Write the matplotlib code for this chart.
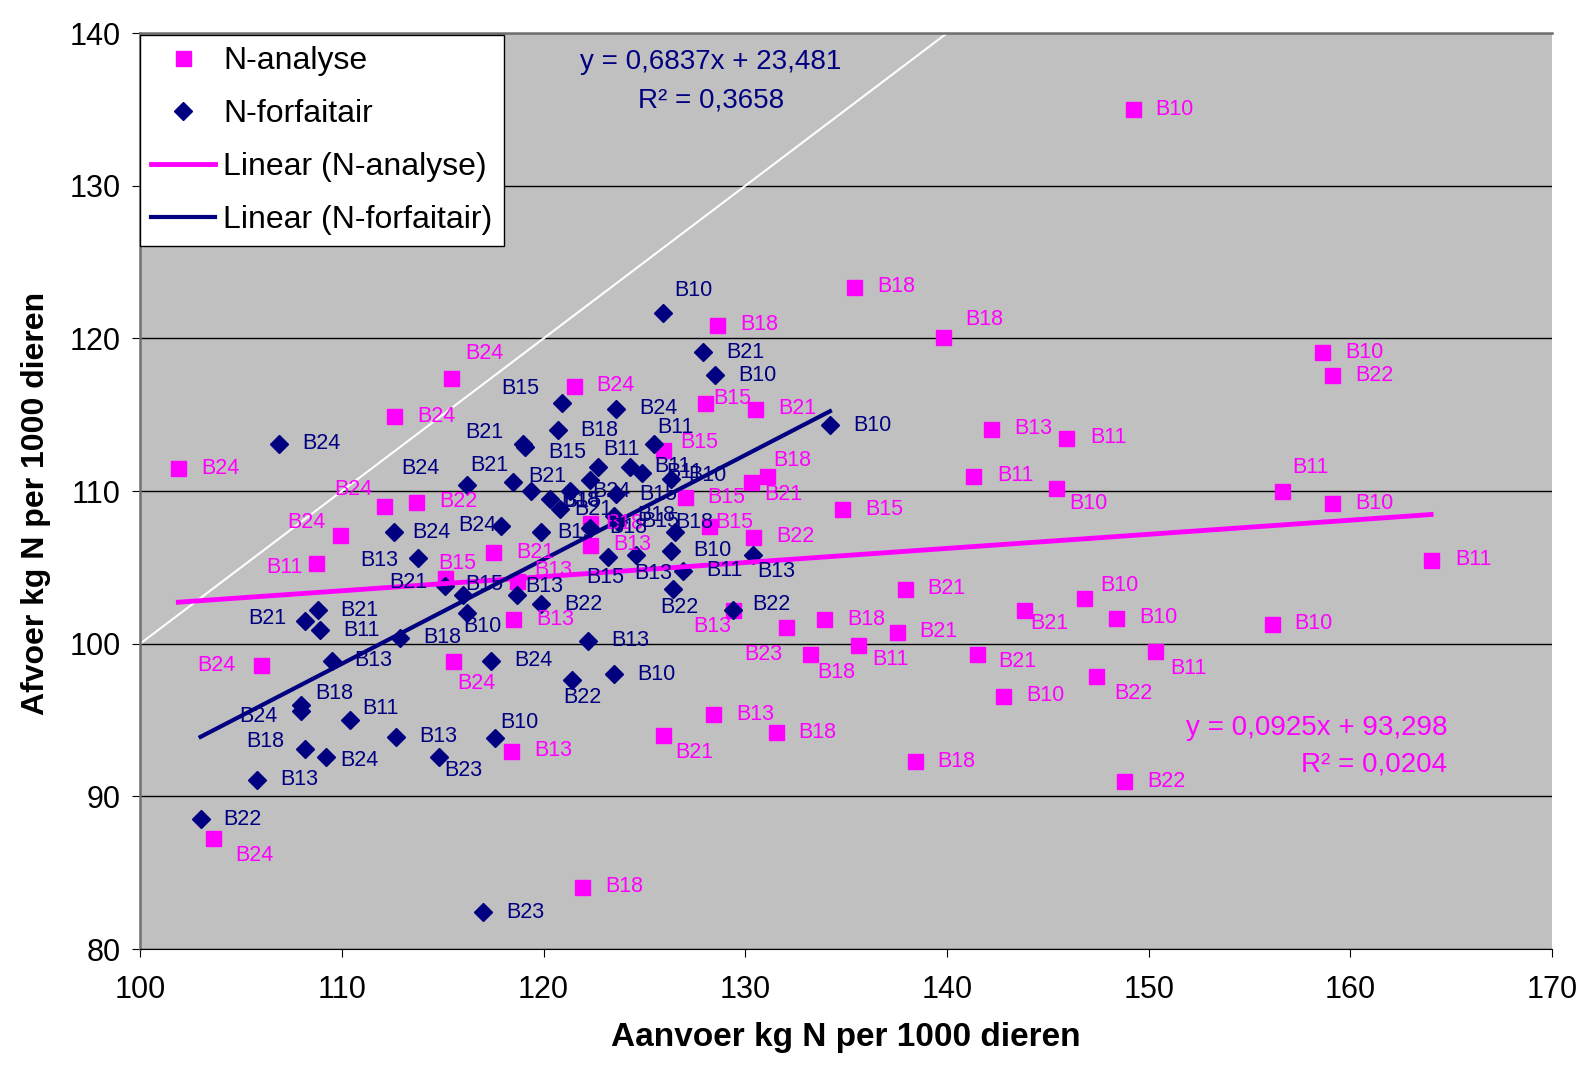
import numpy as np
import matplotlib.pyplot as plt

plt.rcParams['font.family'] = ['Liberation Sans', 'DejaVu Sans']

# N-analyse (roze vierkantjes)
ana_x = [149.2, 135.4, 139.8, 128.6, 121.5, 115.4, 112.6, 101.9, 128.0, 130.5,
         125.9, 142.2, 145.9, 158.6, 159.1, 141.3, 145.4, 156.6, 159.1, 164.0,
         131.1, 130.3, 127.0, 134.8, 128.2, 130.4, 112.1, 113.7, 109.9, 108.7,
         117.5, 122.3, 122.3, 118.7, 115.1, 118.5, 115.5, 106.0, 103.6, 125.9,
         128.4, 118.4, 121.9, 131.5, 138.4, 132.0, 133.2, 133.9, 135.6, 137.5,
         137.9, 141.5, 143.8, 142.8, 146.8, 148.4, 147.4, 150.3, 156.1, 148.8,
         129.4]
ana_y = [135.0, 123.4, 120.1, 120.9, 116.9, 117.4, 114.9, 111.5, 115.8, 115.4,
         112.7, 114.1, 113.5, 119.1, 117.6, 111.0, 110.2, 110.0, 109.2, 105.5,
         111.0, 110.6, 109.6, 108.8, 107.7, 107.0, 109.0, 109.3, 107.1, 105.3,
         106.0, 107.9, 106.5, 104.1, 104.3, 101.6, 98.9, 98.6, 87.3, 94.0,
         95.4, 93.0, 84.1, 94.2, 92.3, 101.1, 99.3, 101.6, 99.9, 100.8,
         103.6, 99.3, 102.2, 96.6, 103.0, 101.7, 97.9, 99.5, 101.3, 91.0,
         102.2]
ana_lab = ['B10', 'B18', 'B18', 'B18', 'B24', 'B24', 'B24', 'B24', 'B15', 'B21',
           'B15', 'B13', 'B11', 'B10', 'B22', 'B11', 'B10', 'B11', 'B10', 'B11',
           'B18', 'B21', 'B15', 'B15', 'B15', 'B22', 'B24', 'B22', 'B24', 'B11',
           'B21', 'B18', 'B13', 'B13', 'B15', 'B13', 'B24', 'B24', 'B24', 'B21',
           'B13', 'B13', 'B18', 'B18', 'B18', 'B23', 'B18', 'B18', 'B11', 'B21',
           'B21', 'B21', 'B21', 'B10', 'B10', 'B10', 'B22', 'B11', 'B10', 'B22',
           'B13']

# N-forfaitair (blauwe ruitjes)
for_x = [125.9, 127.9, 128.5, 134.2, 120.9, 123.6, 119.0, 120.7, 119.1, 106.9,
         125.5, 122.7, 116.2, 118.5, 119.4, 120.3, 120.8, 121.3, 122.3, 124.3,
         124.9, 126.3, 123.6, 123.5, 123.7, 122.3, 126.5, 119.9, 117.9, 112.6,
         113.8, 115.1, 116.0, 118.7, 119.9, 116.2, 112.9, 122.2, 117.4, 121.4,
         123.5, 123.2, 124.6, 126.3, 126.9, 130.4, 126.4, 129.4, 108.8, 108.2,
         108.9, 109.5, 108.0, 108.0, 110.4, 108.2, 109.2, 105.8, 103.0, 112.7,
         114.8, 117.6, 117.0]
for_y = [121.7, 119.1, 117.6, 114.3, 115.8, 115.4, 113.1, 114.0, 112.9, 113.1,
         113.1, 111.6, 110.4, 110.6, 110.0, 109.5, 108.8, 110.0, 110.7, 111.6,
         111.2, 110.8, 109.8, 108.4, 108.0, 107.6, 107.3, 107.3, 107.7, 107.3,
         105.6, 103.8, 103.2, 103.2, 102.6, 102.0, 100.4, 100.2, 98.9, 97.6,
         98.0, 105.7, 105.8, 106.1, 104.8, 105.8, 103.6, 102.2, 102.2, 101.5,
         100.9, 98.9, 96.0, 95.6, 95.0, 93.1, 92.6, 91.1, 88.5, 93.9,
         92.6, 93.8, 82.4]
for_lab = ['B10', 'B21', 'B10', 'B10', 'B15', 'B24', 'B21', 'B18', 'B15', 'B24',
           'B11', 'B11', 'B24', 'B21', 'B21', 'B18', 'B21', 'B24', 'B15', 'B11',
           'B11', 'B10', 'B15', 'B18', 'B15', 'B18', 'B18', 'B15', 'B24', 'B24',
           'B13', 'B21', 'B15', 'B13', 'B22', 'B10', 'B18', 'B13', 'B24', 'B22',
           'B10', 'B15', 'B13', 'B10', 'B11', 'B13', 'B22', 'B22', 'B21', 'B21',
           'B11', 'B13', 'B18', 'B24', 'B11', 'B18', 'B24', 'B13', 'B22', 'B13',
           'B23', 'B10', 'B23']

# trendlijnen volgens de vergelijkingen in de grafiek
ANA_SLOPE, ANA_INT, ANA_R2 = 0.0925, 93.298, 0.0204
FOR_SLOPE, FOR_INT, FOR_R2 = 0.6837, 23.481, 0.3658

# plaats van de labels t.o.v. het punt (pixels, x naar rechts, y omhoog)
R = (42, 0)
ana_off = [R, R, (41, 17), R, R, (34, 25), R, R, (27, 4), R,
           (37, 7), R, R, R, R, R, (32, -15), (29, 24), R, R,
           (25, 15), (32, -13), R, R, (25, 4), R, (-31, 17), R, (-33, 13), (-31, -5),
           R, (34, 0), R, (36, 11), (13, 15), R, (24, -23), (-45, 0), (42, -18), (32, -17),
           R, R, R, R, R, (-22, -28), (26, -18), R, (32, -14), R,
           R, (40, -7), (26, -13), R, (35, 12), R, (37, -18), (34, -17), R, R,
           (-21, -16)]
for_off = [(31, 22), R, R, R, (-41, 14), R, (-39, 11), R, (42, -6), R,
           (21, 16), (23, 17), (-46, 17), (-24, 16), (16, 15), (31, -2), (34, 0), (42, 0), (-8, -21), R,
           R, (37, 3), R, R, R, (38, 0), (20, 10), (35, 0), (-24, 1), (37, 0),
           (-39, -2), (-36, 3), (21, 10), (27, 8), R, (16, -13), R, R, R, (11, -17),
           R, (-3, -21), (17, -18), R, R, (23, -16), (7, -19), (38, 6), R, (-38, 2),
           R, R, (33, 11), (-43, -6), (31, 12), (-40, 8), (34, -4), R, R, R,
           (25, -14), (24, 16), R]

PINK = '#FF00FF'
NAVY = '#000080'


def fmt(v, n):
    return f'{v:.{n}f}'.replace('.', ',')


fig = plt.figure(figsize=(15.79, 10.70), dpi=100)
ax = fig.add_axes([0.0887, 0.113, 0.8943, 0.856])
ax.set_facecolor('#C0C0C0')
ax.set_xlim(100, 170)
ax.set_ylim(80, 140)
ax.set_xticks(range(100, 171, 10))
ax.set_yticks(range(80, 141, 10))
ax.yaxis.grid(True, color='black', lw=1)
ax.set_axisbelow(True)

for s in ['left', 'top']:
    ax.spines[s].set_color('#707070')
    ax.spines[s].set_linewidth(1.8)
ax.spines['bottom'].set_color('black')
ax.spines['right'].set_visible(False)

ax.tick_params(axis='y', labelsize=22, length=6, pad=8)
ax.tick_params(axis='x', labelsize=22, length=6, pad=13)

# lijn y = x
ax.axline((100, 100), slope=1, color='white', lw=1.5, zorder=1)

ax.plot(ana_x, ana_y, 's', color=PINK, ms=10.8, ls='none', label='N-analyse', zorder=3)
ax.plot(for_x, for_y, 'D', color=NAVY, ms=9, ls='none', label='N-forfaitair', zorder=4)

xa = np.array([min(ana_x), max(ana_x)])
ax.plot(xa, ANA_SLOPE * xa + ANA_INT, color=PINK, lw=3.5, label='Linear (N-analyse)', zorder=5)
xf = np.array([min(for_x), max(for_x)])
ax.plot(xf, FOR_SLOPE * xf + FOR_INT, color=NAVY, lw=3, label='Linear (N-forfaitair)', zorder=5)

for x, y, t, o in zip(ana_x, ana_y, ana_lab, ana_off):
    ax.annotate(t, (x, y), xytext=o, textcoords='offset pixels', ha='center', va='center',
                fontsize=15.5, color=PINK, zorder=6)
for x, y, t, o in zip(for_x, for_y, for_lab, for_off):
    ax.annotate(t, (x, y), xytext=o, textcoords='offset pixels', ha='center', va='center',
                fontsize=15.5, color=NAVY, zorder=6)

# vergelijkingen
ax.text(128.3, 138.1, f'y = {fmt(FOR_SLOPE, 4)}x + {fmt(FOR_INT, 3)}', color=NAVY,
        fontsize=20, ha='center', va='center')
ax.text(128.3, 135.6, f'R² = {fmt(FOR_R2, 4)}', color=NAVY, fontsize=20, ha='center', va='center')
ax.text(164.8, 94.5, f'y = {fmt(ANA_SLOPE, 4)}x + {fmt(ANA_INT, 3)}', color=PINK,
        fontsize=20, ha='right', va='center')
ax.text(164.8, 92.1, f'R² = {fmt(ANA_R2, 4)}', color=PINK, fontsize=20, ha='right', va='center')

leg = ax.legend(loc='upper left', bbox_to_anchor=(0, 0.998), fontsize=23, frameon=True,
                fancybox=False, edgecolor='black', framealpha=1, borderaxespad=0,
                handlelength=2.0, handletextpad=0.25, labelspacing=0.72, borderpad=0.35)
leg.get_frame().set_linewidth(1)
leg.set_zorder(10)

ax.set_xlabel('Aanvoer kg N per 1000 dieren', fontsize=24, fontweight='bold', labelpad=12)
ax.set_ylabel('Afvoer kg N per 1000 dieren', fontsize=23, fontweight='bold')
ax.yaxis.set_label_coords(-0.063, 0.487)

fig.savefig('out.png', dpi=100)
